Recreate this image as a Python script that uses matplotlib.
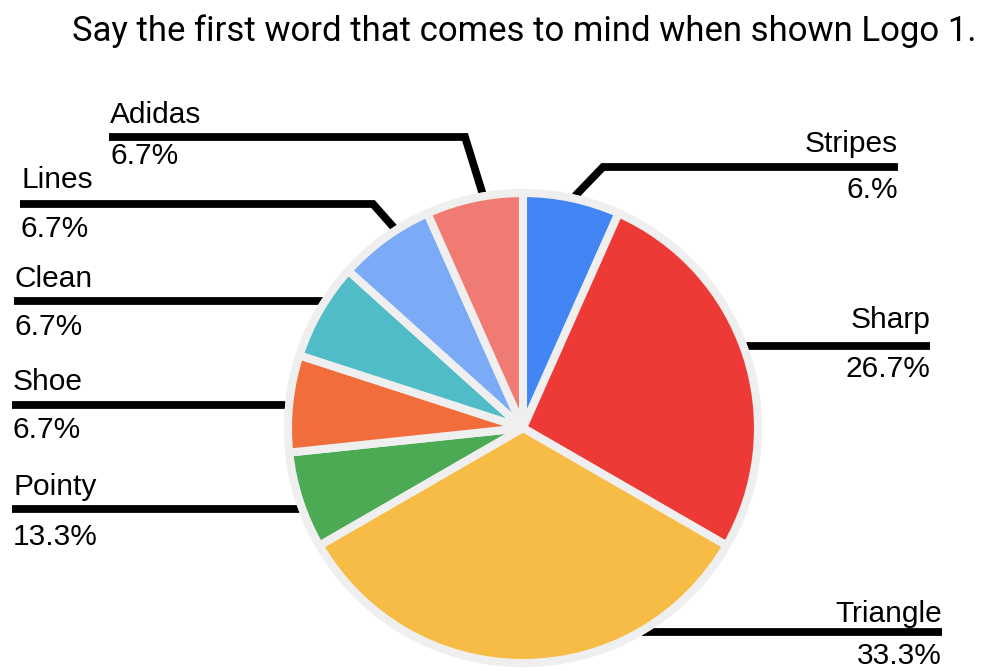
import numpy as np
import matplotlib.pyplot as plt
from matplotlib.patches import Circle

# answers, clockwise from the top
labels = ['Stripes', 'Sharp', 'Triangle', 'Pointy', 'Shoe', 'Clean', 'Lines', 'Adidas']
# slice sizes come from these counts (15 answers in all)
counts = [1, 4, 5, 1, 1, 1, 1, 1]
# printed percentages, kept as written: they do not all agree with counts,
# e.g. Pointy says 13.3% but its slice is 1 of 15 (6.7%), Stripes says 6.%
pct_labels = ['6.%', '26.7%', '33.3%', '13.3%', '6.7%', '6.7%', '6.7%', '6.7%']
colors = ['#4285f4', '#ee3a36', '#f7bc45', '#4caa55', '#f16d3b', '#50bcc8', '#7baaf7', '#f07b72']

title = 'Say the first word that comes to mind when shown Logo 1.'

W, H = 985, 671
fig = plt.figure(figsize=(W / 100, H / 100), dpi=100)
ax = fig.add_axes([0, 0, 1, 1])

# pixel layout, y measured from the top
cx, cy = 523, H - 428
ring_r = 239

ax.add_patch(Circle((cx, cy), ring_r, facecolor='#efefef', edgecolor='none', zorder=2))
wedges, _ = ax.pie(counts, colors=colors, startangle=90, counterclock=False,
                   center=(cx, cy), radius=235, frame=True,
                   wedgeprops=dict(edgecolor='#efefef', linewidth=5.8,
                                   joinstyle='round', zorder=3))

ax.set_xlim(0, W)
ax.set_ylim(0, H)
ax.set_aspect('equal')
ax.axis('off')

# label placement: side, line y, outer x of line, name baseline, pct baseline, elbow
layout = {
    'Stripes':  ('right', 167, 898, 152, 198, [(603, 167), (575, 196)]),
    'Sharp':    ('right', 346, 930, 328, 377, None),
    'Triangle': ('right', 632, 942, 622, 664, None),
    'Pointy':   ('left', 509, 12, 495, 545, None),
    'Shoe':     ('left', 405, 12, 390, 438, None),
    'Clean':    ('left', 301, 14, 287, 335, None),
    'Lines':    ('left', 204, 20, 188, 237, [(373, 204), (396, 230)]),
    'Adidas':   ('left', 137, 109, 123, 164, [(465, 137), (483, 195)]),
}

lw = 5.6
fs = 21.5
for name, pct in zip(labels, pct_labels):
    side, ly, lx, ny, py, elbow = layout[name]
    if elbow is None:
        dy = (H - ly) - cy
        reach = np.sqrt(ring_r ** 2 - dy ** 2) - 6
        inner = cx + reach if side == 'right' else cx - reach
        xs, ys = [lx, inner], [ly, ly]
    else:
        xs = [lx] + [p[0] for p in elbow]
        ys = [ly] + [p[1] for p in elbow]
    ax.plot(xs, [H - y for y in ys], color='black', lw=lw, zorder=1,
            solid_capstyle='butt', solid_joinstyle='miter')
    ha = 'right' if side == 'right' else 'left'
    tx = lx if side == 'right' else lx + 1
    ax.text(tx, H - ny, name, ha=ha, va='baseline', fontsize=fs,
            family='Liberation Sans', color='black')
    ax.text(tx, H - py, pct, ha=ha, va='baseline', fontsize=fs,
            family='Liberation Sans', color='black')

ax.text(524, H - 41, title, ha='center', va='baseline', fontsize=25,
        family='Roboto', color='black')

fig.savefig('out.png', dpi=100)
